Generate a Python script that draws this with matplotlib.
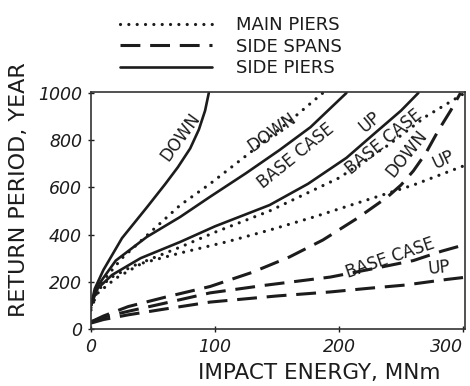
import matplotlib
matplotlib.use("Agg")
import matplotlib.pyplot as plt

# ---- data ----
# Side piers (solid)
piers_down_x = [0, 3, 10, 25, 45, 60, 70, 80, 87, 92, 95]
piers_down_y = [100, 170, 250, 385, 515, 615, 685, 765, 845, 925, 1000]
piers_base_x = [0, 5, 20, 45, 72, 96, 125, 152, 177, 192, 206]
piers_base_y = [100, 180, 290, 390, 475, 560, 660, 758, 855, 930, 1000]
piers_up_x = [0, 5, 17, 40, 72, 100, 144, 175, 206, 229, 250, 264]
piers_up_y = [100, 170, 229, 300, 369, 435, 525, 615, 725, 830, 925, 1000]

# Main piers (dotted)
main_down_x = [0, 3, 9, 25, 50, 72, 96, 128, 160, 187]
main_down_y = [100, 150, 200, 300, 420, 525, 615, 746, 880, 1000]
main_base_x = [0, 5, 20, 45, 72, 100, 144, 200, 240, 270, 300]
main_base_y = [90, 150, 215, 290, 347, 410, 500, 640, 780, 900, 995]
main_up_x = [0, 5, 15, 35, 72, 110, 144, 180, 215, 260, 300]
main_up_y = [80, 160, 215, 270, 322, 370, 419, 475, 534, 610, 690]

# Side spans (dashed)
spans_down_x = [0, 10, 30, 60, 96, 130, 160, 187, 215, 239, 250, 260, 270, 280, 290, 298]
spans_down_y = [30, 55, 95, 135, 180, 240, 305, 377, 470, 559, 610, 670, 745, 840, 925, 1000]
spans_base_x = [0, 10, 30, 60, 96, 140, 193, 230, 260, 283, 300]
spans_base_y = [30, 50, 75, 110, 153, 185, 220, 258, 290, 330, 355]
spans_up_x = [0, 10, 30, 60, 96, 150, 193, 223, 253, 287, 300]
spans_up_y = [25, 40, 60, 85, 114, 140, 157, 172, 186, 210, 218]

legend_labels = ["MAIN PIERS", "SIDE SPANS", "SIDE PIERS"]
x_ticks = [0, 100, 200, 300]
y_ticks = [0, 200, 400, 600, 800, 1000]

# curve annotations: text, x, y, rotation
curve_labels = [
    ("DOWN", 72, 813, 54),
    ("DOWN", 146, 835, 35),
    ("BASE CASE", 165, 733, 39),
    ("UP", 225, 877, 40),
    ("BASE CASE", 236, 792, 39),
    ("DOWN", 255, 742, 51),
    ("UP", 284, 716, 25),
    ("BASE CASE", 241, 301, 19),
    ("UP", 281, 258, 6),
]

ink = "#1c1c1c"
plt.rcParams['font.family'] = ['DejaVu Sans']

fig = plt.figure(figsize=(4.70, 3.86), dpi=100)
ax = fig.add_axes([91 / 470, 1 - 329 / 386, 374 / 470, 237 / 386])

solid_kw = dict(color=ink, lw=1.9, solid_joinstyle="round", solid_capstyle="round")
dot_kw = dict(color=ink, lw=2.3, linestyle=(0, (0.01, 2.6)), dash_capstyle="round")
dash_kw = dict(color=ink, lw=2.2, linestyle=(0, (6.5, 3.2)), dash_capstyle="butt")

l_main = ax.plot(main_down_x, main_down_y, **dot_kw)[0]
ax.plot(main_base_x, main_base_y, **dot_kw)
ax.plot(main_up_x, main_up_y, **dot_kw)

l_span = ax.plot(spans_down_x, spans_down_y, **dash_kw)[0]
ax.plot(spans_base_x, spans_base_y, **dash_kw)
ax.plot(spans_up_x, spans_up_y, **dash_kw)

l_pier = ax.plot(piers_down_x, piers_down_y, **solid_kw)[0]
ax.plot(piers_base_x, piers_base_y, **solid_kw)
ax.plot(piers_up_x, piers_up_y, **solid_kw)

for txt, tx, ty, rot in curve_labels:
    ax.text(tx, ty, txt, rotation=rot, ha="center", va="center",
            fontsize=12, color=ink, rotation_mode="anchor")

ax.set_xlim(0, 301.6)
ax.set_ylim(0, 1004)
ax.set_xticks(x_ticks)
ax.set_yticks(y_ticks)
ax.set_xticklabels([str(v) for v in x_ticks], fontsize=12.5, style="italic", color=ink)
ax.set_yticklabels([str(v) for v in y_ticks], fontsize=12.5, style="italic", color=ink)
ax.tick_params(direction="inout", length=5, width=1.0, color=ink, pad=4)
xt = ax.get_xticklabels()
xt[-1].set_horizontalalignment("right")
for s in ax.spines.values():
    s.set_color("#333333")
    s.set_linewidth(1.2)

ax.set_xlabel("IMPACT ENERGY, MNm", fontsize=15.5, color=ink)
ax.xaxis.set_label_coords(0.61, -0.145)
ax.set_ylabel("RETURN PERIOD, YEAR", fontsize=16, color=ink)
ax.yaxis.set_label_coords(-0.165, 0.59)

leg = fig.legend([l_main, l_span, l_pier], legend_labels, loc="upper left",
                 bbox_to_anchor=(120 / 470, 1 - 16 / 386), frameon=False,
                 fontsize=13, handlelength=5.1, handletextpad=1.3,
                 labelspacing=0.2, borderpad=0, borderaxespad=0)
for t in leg.get_texts():
    t.set_color(ink)

fig.savefig("out.png", dpi=100, facecolor="white")
